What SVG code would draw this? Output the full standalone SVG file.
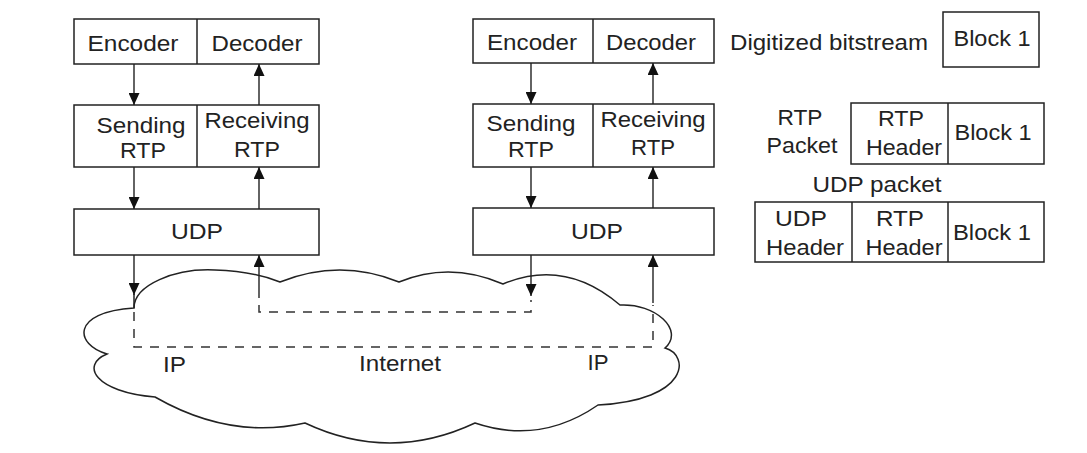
<svg xmlns="http://www.w3.org/2000/svg" width="1087" height="453" viewBox="0 0 1087 453">
<style>
.bx{fill:#fff;stroke:#222;stroke-width:1.5}
.ln{fill:none;stroke:#222;stroke-width:1.5}
.ar{fill:none;stroke:#222;stroke-width:1.4;marker-end:url(#ah)}
.ds{fill:none;stroke:#333;stroke-width:1.5;stroke-dasharray:9 8}
text{font-family:"Liberation Sans",Arial,sans-serif;font-size:22px;fill:#222;text-anchor:middle}
</style>
<defs>
<marker id="ah" markerUnits="userSpaceOnUse" markerWidth="12" markerHeight="11" refX="12" refY="5.5" orient="auto" viewBox="0 0 12 11">
<path d="M0,0 L12,5.5 L0,11 z" fill="#111"/>
</marker>
</defs>
<rect width="1087" height="453" fill="#fff"/>

<g id="cloud">
<path class="ln" d="M134,308 C134,285 175,268 215,270 C245,271 265,276 280,282 Q340,258 399,282 Q450,261 503,284 Q565,258 620,305 C655,303 685,330 665,348 C690,355 690,400 598,405 Q540,445 475,423 Q390,463 305,423 Q230,440 155,397 C95,392 80,365 107,354 C75,345 70,312 134,308 Z"/>
<text x="174.5" y="372" textLength="23" lengthAdjust="spacingAndGlyphs">IP</text>
<text x="400" y="371" textLength="82" lengthAdjust="spacingAndGlyphs">Internet</text>
<text x="598" y="370" textLength="21" lengthAdjust="spacingAndGlyphs">IP</text>
</g>

<g id="left-codec">
<rect class="bx" x="74" y="19" width="245" height="45"/>
<line class="ln" x1="197" y1="19" x2="197" y2="64"/>
<text x="133" y="51" textLength="91" lengthAdjust="spacingAndGlyphs">Encoder</text>
<text x="257" y="51" textLength="91" lengthAdjust="spacingAndGlyphs">Decoder</text>
</g>
<g id="left-rtp">
<rect class="bx" x="74" y="105" width="245" height="62"/>
<line class="ln" x1="197" y1="105" x2="197" y2="167"/>
<text x="141" y="133" textLength="89" lengthAdjust="spacingAndGlyphs">Sending</text>
<text x="143" y="158" textLength="46" lengthAdjust="spacingAndGlyphs">RTP</text>
<text x="257" y="128" textLength="105" lengthAdjust="spacingAndGlyphs">Receiving</text>
<text x="257" y="157" textLength="46" lengthAdjust="spacingAndGlyphs">RTP</text>
</g>
<g id="left-udp">
<rect class="bx" x="74" y="209" width="245" height="46"/>
<text x="197" y="239" textLength="52" lengthAdjust="spacingAndGlyphs">UDP</text>
</g>

<g id="right-codec">
<rect class="bx" x="473" y="19" width="241" height="44"/>
<line class="ln" x1="593" y1="19" x2="593" y2="63"/>
<text x="532" y="50" textLength="90" lengthAdjust="spacingAndGlyphs">Encoder</text>
<text x="651" y="50" textLength="90" lengthAdjust="spacingAndGlyphs">Decoder</text>
</g>
<g id="right-rtp">
<rect class="bx" x="473" y="104" width="241" height="63"/>
<line class="ln" x1="593" y1="104" x2="593" y2="167"/>
<text x="531" y="131" textLength="89" lengthAdjust="spacingAndGlyphs">Sending</text>
<text x="531" y="157" textLength="46" lengthAdjust="spacingAndGlyphs">RTP</text>
<text x="653" y="127" textLength="105" lengthAdjust="spacingAndGlyphs">Receiving</text>
<text x="653" y="155" textLength="44" lengthAdjust="spacingAndGlyphs">RTP</text>
</g>
<g id="right-udp">
<rect class="bx" x="473" y="208" width="241" height="47"/>
<text x="597" y="239" textLength="52" lengthAdjust="spacingAndGlyphs">UDP</text>
</g>

<g id="bitstream">
<text x="829" y="50" textLength="198" lengthAdjust="spacingAndGlyphs">Digitized bitstream</text>
<rect class="bx" x="943" y="12" width="96" height="55"/>
<text x="992" y="46" textLength="77" lengthAdjust="spacingAndGlyphs">Block 1</text>
</g>
<g id="rtp-packet">
<text x="800" y="125" textLength="45" lengthAdjust="spacingAndGlyphs">RTP</text>
<text x="802" y="153" textLength="71" lengthAdjust="spacingAndGlyphs">Packet</text>
<rect class="bx" x="851" y="103" width="193" height="61"/>
<line class="ln" x1="948" y1="103" x2="948" y2="164"/>
<text x="901" y="126" textLength="46" lengthAdjust="spacingAndGlyphs">RTP</text>
<text x="904" y="155" textLength="76" lengthAdjust="spacingAndGlyphs">Header</text>
<text x="993" y="140" textLength="77" lengthAdjust="spacingAndGlyphs">Block 1</text>
</g>
<g id="udp-packet">
<text x="877" y="192" textLength="129" lengthAdjust="spacingAndGlyphs">UDP packet</text>
<rect class="bx" x="755" y="202" width="289" height="60"/>
<line class="ln" x1="852" y1="202" x2="852" y2="262"/>
<line class="ln" x1="948" y1="202" x2="948" y2="262"/>
<text x="801" y="226" textLength="52" lengthAdjust="spacingAndGlyphs">UDP</text>
<text x="805" y="255" textLength="78" lengthAdjust="spacingAndGlyphs">Header</text>
<text x="900" y="226" textLength="48" lengthAdjust="spacingAndGlyphs">RTP</text>
<text x="904" y="255" textLength="77" lengthAdjust="spacingAndGlyphs">Header</text>
<text x="992" y="240" textLength="78" lengthAdjust="spacingAndGlyphs">Block 1</text>
</g>

<g id="connectors">
<line class="ar" x1="134" y1="64" x2="134" y2="105"/>
<line class="ar" x1="259" y1="105" x2="259" y2="64"/>
<line class="ar" x1="134" y1="167" x2="134" y2="209"/>
<line class="ar" x1="259" y1="209" x2="259" y2="167"/>
<line class="ar" x1="531" y1="63" x2="531" y2="104"/>
<line class="ar" x1="653" y1="104" x2="653" y2="63"/>
<line class="ar" x1="531" y1="167" x2="531" y2="208"/>
<line class="ar" x1="653" y1="208" x2="653" y2="167"/>
<line class="ar" x1="134" y1="255" x2="134" y2="295"/>
<line class="ln" x1="134" y1="294" x2="134" y2="308"/>
<line class="ar" x1="259" y1="298" x2="259" y2="255"/>
<line class="ar" x1="531" y1="255" x2="531" y2="296"/>
<line class="ar" x1="653" y1="303" x2="653" y2="255"/>
<path class="ds" d="M134,312 V347 H653 V305"/>
<path class="ds" d="M259,305 V312 H531 V300"/>
</g>
</svg>
